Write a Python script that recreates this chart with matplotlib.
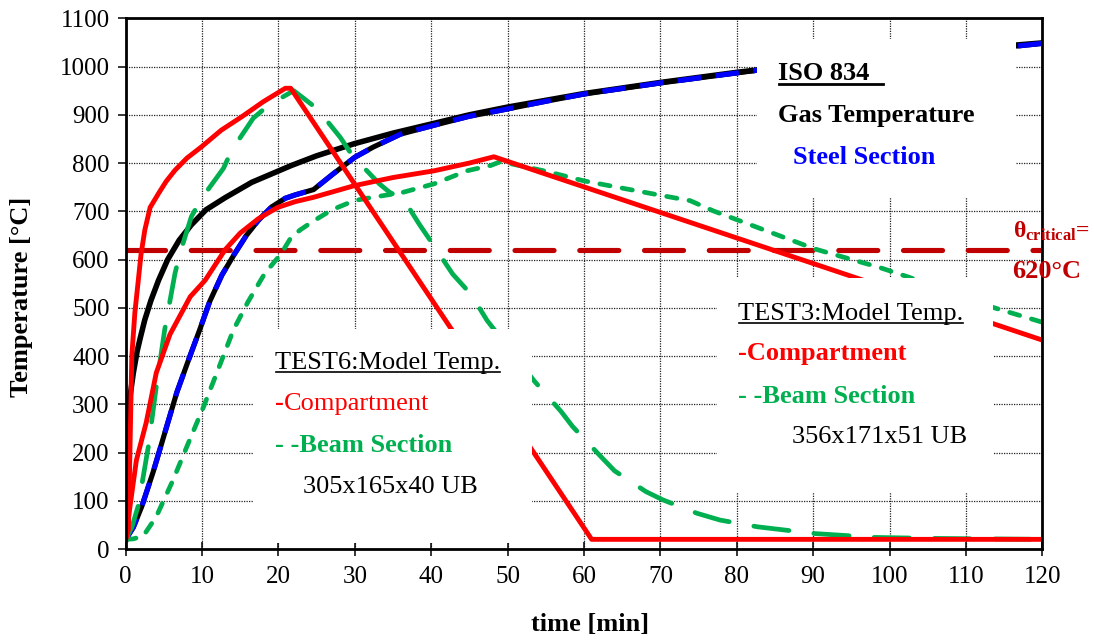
import matplotlib
matplotlib.use("Agg")
import matplotlib.pyplot as plt
from matplotlib.patches import Rectangle
from matplotlib.lines import Line2D

plt.rcParams['font.family'] = ['Liberation Serif', 'DejaVu Serif']
plt.rcParams['mathtext.fontset'] = 'custom'
plt.rcParams['mathtext.rm'] = 'Liberation Serif'
plt.rcParams['mathtext.bf'] = 'Liberation Serif:bold'
plt.rcParams['mathtext.it'] = 'Liberation Serif:italic'

# ---------------- data ----------------
# ISO 834 gas temperature
iso_time = [0, 0.3, 0.6, 1.0, 1.5, 1.9, 2.5, 3.3, 4.3, 5.5, 7.0, 8.6, 10.5, 13.0,
            16.5, 21.7, 25, 29.9, 35, 40.3, 45, 50, 60, 70, 80, 90, 100, 110, 120]
iso_temp = [20, 230, 320, 365, 410, 437, 475, 515, 557, 600, 640, 672, 703, 728,
            760, 795, 815, 840, 862, 882, 900, 916, 944, 967, 988, 1006, 1022, 1036, 1049]

# Steel section (ISO 834 exposure)
steel_time = [0, 1.0, 2.1, 3.6, 5.2, 6.7, 8.3, 9.7, 11.0, 12.6, 14.3, 15.8, 17.4, 19.1,
              20.9, 22.2, 24.6, 27.2, 30, 32.4, 36, 40.3, 45, 49, 55, 60, 70, 83, 90,
              100, 110, 117, 120]
steel_temp = [20, 45, 88, 160, 245, 325, 395, 455, 513, 568, 613, 650, 682, 709,
              727, 734, 745, 778, 812, 833, 860, 878, 897, 909, 928, 943, 966, 993, 1005,
              1021, 1035, 1043, 1048]

# TEST6 model: compartment
t6_comp_time = [0, 0.35, 0.55, 0.8, 1.2, 1.65, 2.0, 2.5, 3.2, 4.3, 5.3, 6.45, 8.0, 9.95,
                12.5, 15.2, 18.0, 20.9, 21.6, 61, 120]
t6_comp_temp = [20, 40, 200, 400, 490, 557, 610, 661, 708, 737, 762, 785, 810, 834,
                868, 896, 927, 955, 955, 20, 20]

# TEST6 model: beam section 305x165x40 UB
t6_beam_time = [0, 0.8, 1.65, 2.96, 4.0, 5.1, 6.45, 7.1, 8.6, 9.95, 12.8, 13.9, 16.7, 18.7,
                22.0, 25.1, 28.1, 29.7, 33.2, 34.5, 35.3, 36.5, 38.4, 39.9, 42.8, 45.2,
                47.3, 53.5, 57.0, 58.5, 62.0, 64.0, 68.1, 70.3, 74.8, 77.8, 82.7, 90.2,
                98.1, 105.5, 120]
t6_beam_temp = [20, 45, 90, 212, 336, 454, 571, 613, 689, 727, 789, 827, 893, 920,
                950, 912, 853, 815, 757, 740, 733, 722, 674, 639, 570, 528,
                474, 348, 285, 254, 195, 162, 119, 102, 74, 60, 46, 32,
                24, 22, 20]

# TEST3 model: compartment
t3_comp_time = [0, 0.56, 1.4, 2.7, 4.0, 5.8, 8.45, 10.4, 13.0, 15.0, 17.4, 19.9, 22.2,
                24.6, 29.9, 35, 40.4, 45, 48.2, 120]
t3_comp_temp = [20, 88, 184, 263, 365, 445, 523, 557, 620, 655, 685, 708, 720,
                729, 753, 770, 784, 800, 813, 433]

# TEST3 model: beam section 356x171x51 UB
t3_beam_time = [0, 1.0, 2.3, 4.0, 6.2, 8.0, 10.2, 11.9, 14.1, 16.0, 18.2, 20.3, 21.7, 22.9,
                24.6, 27.0, 29.9, 31.6, 35.1, 36.0, 40.4, 44.7, 47.8, 49.1, 55, 60, 65,
                70.4, 73.9, 76.9, 83.8, 90.2, 98.6, 102.6, 113.5, 120]
t3_beam_temp = [20, 21, 27, 67, 143, 212, 295, 364, 454, 512, 571, 611, 647, 662,
                680, 703, 722, 727, 736, 738, 757, 784, 795, 803, 783, 763, 748,
                732, 722, 701, 660, 622, 584, 563, 501, 470]

critical_temp = 620
x_ticks = list(range(0, 121, 10))
y_ticks = list(range(0, 1101, 100))

# ---------------- figure ----------------
W, H = 1094, 640
fig = plt.figure(figsize=(W / 100, H / 100), dpi=100)
ax = fig.add_axes([125.7 / W, 1 - 549 / H, (1042.3 - 125.7) / W, (549 - 18.3) / H])
ax.set_xlim(0, 120)
ax.set_ylim(0, 1100)
ax.set_xticks(x_ticks)
ax.set_yticks(y_ticks)
ax.grid(True, color='#222222', linestyle=(0, (1, 1)), linewidth=0.9)
ax.set_axisbelow(True)

for s in ax.spines.values():
    s.set_linewidth(2.0)
    s.set_zorder(6)
ax.tick_params(axis='x', direction='inout', length=10, width=1.1, pad=7, labelsize=18)
ax.tick_params(axis='y', direction='out', length=5.5, width=1.1, pad=6, labelsize=18)

RED = '#FF0000'
GREEN = '#00B050'
DARKRED = '#C00000'

ax.axhline(critical_temp, color=DARKRED, lw=3.7, dashes=(7.6, 5.0),
           dash_capstyle='round', zorder=2.0)
ax.plot(iso_time, iso_temp, color='black', lw=4.0, zorder=2.1)
ax.plot(steel_time, steel_temp, color='black', lw=3.7, zorder=2.2)
ax.plot(steel_time, steel_temp, color='#0000FF', lw=3.7, dashes=(4.6, 2.8),
        dash_capstyle='butt', zorder=2.25)
ax.plot(t3_beam_time, t3_beam_temp, color=GREEN, lw=3.4, dashes=(2.2, 2.6),
        dash_capstyle='round', zorder=2.3)
ax.plot(t6_beam_time, t6_beam_temp, color=GREEN, lw=3.4, dashes=(7.5, 5.3),
        dash_capstyle='round', zorder=2.4)
ax.plot(t3_comp_time, t3_comp_temp, color=RED, lw=3.5, zorder=2.5,
        solid_capstyle='round', solid_joinstyle='round')
ax.plot(t6_comp_time, t6_comp_temp, color=RED, lw=3.5, zorder=2.6,
        solid_capstyle='round', solid_joinstyle='round')

# white text boxes covering the curves
for (x0, x1, y0, y1) in [(16.7, 53.15, 12, 457), (77.4, 113.5, 116, 561), (82.7, 116.6, 730, 1058)]:
    ax.add_patch(Rectangle((x0, y0), x1 - x0, y1 - y0, facecolor='white',
                           edgecolor='none', zorder=4))

FS = 19
tk = dict(fontsize=FS, va='baseline', ha='left', zorder=7)

t_iso = ax.text(85.45, 972, 'ISO 834', weight='bold', color='black', **tk)
ax.text(85.45, 885.6, 'Gas Temperature', weight='bold', color='black', **tk)
ax.text(87.3, 799, 'Steel Section', weight='bold', color='#0000FF', **tk)

ax.text(116.1, 644.6, r'$\mathbf{θ_{critical}}$=', weight='bold', color=DARKRED,
        fontsize=17, va='baseline', ha='left', zorder=7)
ax.text(116.1, 561, '620°C', weight='bold', color=DARKRED, **tk)

t_t6 = ax.text(19.55, 372.4, 'TEST6:Model Temp.', color='black', **tk)
t_dash6 = ax.text(19.55, 288, '-', weight='bold', color=RED, **tk)
ax.annotate('Compartment', xy=(1, 0), xycoords=t_dash6, va='bottom', ha='left',
            fontsize=FS, color=RED, zorder=7)
ax.text(19.55, 201.7, '- -Beam Section', weight='bold', color=GREEN, **tk)
ax.text(23.2, 115.4, '305x165x40 UB', color='black', **tk)

t_t3 = ax.text(80.1, 474.6, 'TEST3:Model Temp.', color='black', **tk)
ax.text(80.1, 391.7, '-Compartment', weight='bold', color=RED, **tk)
ax.text(80.1, 303, '- -Beam Section', weight='bold', color=GREEN, **tk)
ax.text(87.2, 219, '356x171x51 UB', color='black', **tk)

ax.set_xlabel('time [min]', fontsize=FS, weight='bold')
ax.xaxis.set_label_coords(0.5066, -0.121)
ax.set_ylabel('Temperature [°C]', fontsize=FS, weight='bold')
ax.yaxis.set_label_coords(-0.101, 0.475)

# underlines
fig.canvas.draw()
renderer = fig.canvas.get_renderer()
inv = fig.transFigure.inverted()


def underline(txt, extra, offset, lw):
    bb = txt.get_window_extent(renderer)
    x, y = txt.get_position()
    by = ax.transData.transform((x, y))[1] - offset
    p0 = inv.transform((bb.x0 + 1, by))
    p1 = inv.transform((bb.x1 + extra, by))
    fig.add_artist(Line2D([p0[0], p1[0]], [p0[1], p1[1]], color='black',
                          lw=lw, zorder=8))


underline(t_iso, 13, 4.0, 2.0)
underline(t_t6, 0, 2.6, 1.2)
underline(t_t3, 0, 2.6, 1.2)

fig.savefig('out.png', dpi=100)
